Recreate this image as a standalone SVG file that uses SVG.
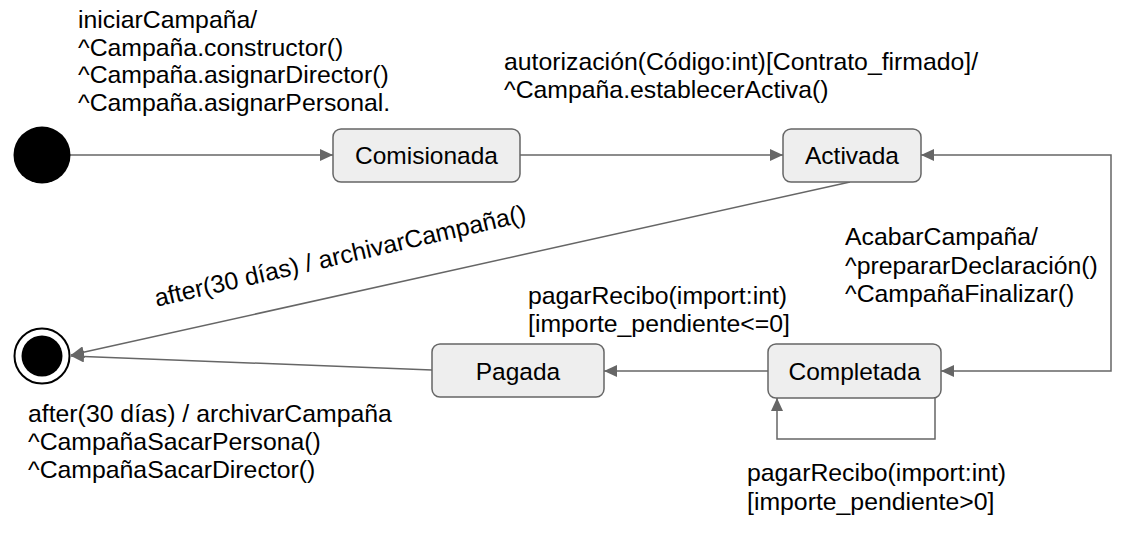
<svg xmlns="http://www.w3.org/2000/svg" width="1133" height="558" viewBox="0 0 1133 558">
<style>
text{font-family:"Liberation Sans",Arial,sans-serif;font-size:24.8px;fill:#000}
.st{fill:#eeeeee;stroke:#666;stroke-width:1.5}
.c{text-anchor:middle}
.b{font-size:24.5px}
.e{fill:none;stroke:#666;stroke-width:1.5}
</style>
<defs>
<marker id="ah" markerWidth="14" markerHeight="12" refX="13" refY="6" orient="auto-start-reverse" markerUnits="userSpaceOnUse">
<path d="M0,0 L13,6 L0,12 Z" fill="#666"/>
</marker>
</defs>
<rect width="1133" height="558" fill="#fff"/>
<g id="connectors">
<path class="e" d="M70,155 H333" marker-end="url(#ah)"/>
<path class="e" d="M520,155 H783" marker-end="url(#ah)"/>
<path class="e" d="M921,155 H1111 V371 H941" stroke-linejoin="miter" marker-start="url(#ah)" marker-end="url(#ah)"/>
<path class="e" d="M850,182 L71,355" marker-end="url(#ah)"/>
<path class="e" d="M768,371 H604" marker-end="url(#ah)"/>
<path class="e" d="M432,370 L71,356" marker-end="url(#ah)"/>
<path class="e" d="M935,398 V439 H777 V398" marker-end="url(#ah)"/>
</g>
<g id="initial"><circle cx="42" cy="155" r="28.5" fill="#000"/></g>
<g id="final"><circle cx="42" cy="356" r="27.5" fill="#fff" stroke="#000" stroke-width="2"/><circle cx="42" cy="356" r="20.5" fill="#000"/></g>
<g id="comisionada"><rect class="st" x="333" y="129" width="187" height="53" rx="8"/><text class="c b" x="426.5" y="164">Comisionada</text></g>
<g id="activada"><rect class="st" x="783" y="129" width="138" height="53" rx="8"/><text class="c b" x="852" y="164">Activada</text></g>
<g id="completada"><rect class="st" x="768" y="344" width="173" height="54" rx="8"/><text class="c b" x="854.5" y="380">Completada</text></g>
<g id="pagada"><rect class="st" x="432" y="344" width="172" height="53" rx="8"/><text class="c b" x="518" y="380">Pagada</text></g>
<g id="labels">
<text x="78" y="28">iniciarCampaña/</text>
<text x="78" y="56">^Campaña.constructor()</text>
<text x="78" y="83">^Campaña.asignarDirector()</text>
<text x="78" y="111">^Campaña.asignarPersonal.</text>
<text x="504" y="70">autorización(Código:int)[Contrato_firmado]/</text>
<text x="504" y="98">^Campaña.establecerActiva()</text>
<text x="845" y="245">AcabarCampaña/</text>
<text x="845" y="274">^prepararDeclaración()</text>
<text x="845" y="302">^CampañaFinalizar()</text>
<text x="528" y="304">pagarRecibo(import:int)</text>
<text x="528" y="332">[importe_pendiente&lt;=0]</text>
<text x="28" y="422">after(30 días) / archivarCampaña</text>
<text x="28" y="450">^CampañaSacarPersona()</text>
<text x="28" y="478">^CampañaSacarDirector()</text>
<text x="747" y="481">pagarRecibo(import:int)</text>
<text x="747" y="510">[importe_pendiente&gt;0]</text>
<text class="c" transform="translate(342,264) rotate(-13)">after(30 días) / archivarCampaña()</text>
</g>
</svg>
